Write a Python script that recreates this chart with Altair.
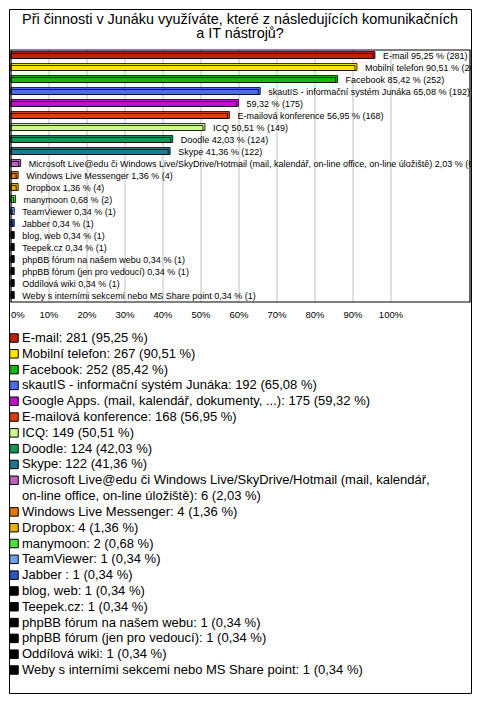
import altair as alt
import pandas as pd

title_lines = ["Při činnosti v Junáku využíváte, které z následujících komunikačních", "a IT nástrojů?"]

categories = [
    "E-mail",
    "Mobilní telefon",
    "Facebook",
    "skautIS - informační systém Junáka",
    "Google Apps. (mail, kalendář, dokumenty, ...)",
    "E-mailová konference",
    "ICQ",
    "Doodle",
    "Skype",
    "Microsoft Live@edu či Windows Live/SkyDrive/Hotmail (mail, kalendář,\non-line office, on-line úložiště)",
    "Windows Live Messenger",
    "Dropbox",
    "manymoon",
    "TeamViewer",
    "Jabber ",
    "blog, web",
    "Teepek.cz",
    "phpBB fórum na našem webu",
    "phpBB fórum (jen pro vedoucí)",
    "Oddílová wiki",
    "Weby s interními sekcemi nebo MS Share point",
]
bar_names = [
    "E-mail",
    "Mobilní telefon",
    "Facebook",
    "skautIS - informační systém Junáka",
    "",
    "E-mailová konference",
    "ICQ",
    "Doodle",
    "Skype",
    "Microsoft Live@edu či Windows Live/SkyDrive/Hotmail (mail, kalendář, on-line office, on-line úložiště)",
    "Windows Live Messenger",
    "Dropbox",
    "manymoon",
    "TeamViewer",
    "Jabber ",
    "blog, web",
    "Teepek.cz",
    "phpBB fórum na našem webu",
    "phpBB fórum (jen pro vedoucí)",
    "Oddílová wiki",
    "Weby s interními sekcemi nebo MS Share point",
]
counts = [281, 267, 252, 192, 175, 168, 149, 124, 122, 6, 4, 4, 2, 1, 1, 1, 1, 1, 1, 1, 1]
percents = [95.25, 90.51, 85.42, 65.08, 59.32, 56.95, 50.51, 42.03, 41.36, 2.03, 1.36, 1.36, 0.68,
            0.34, 0.34, 0.34, 0.34, 0.34, 0.34, 0.34, 0.34]
colors = ["#c0200e", "#ffe600", "#10b810", "#4a6cf0", "#c010c8", "#e03c0c", "#ccf890", "#10985a",
          "#207a8c", "#c060c0", "#e87810", "#e8b010", "#50e040", "#70a0f0", "#3058c0",
          "#000000", "#000000", "#000000", "#000000", "#000000", "#000000"]
tick_values = [0, 10, 20, 30, 40, 50, 60, 70, 80, 90, 100]

FONT = "Liberation Sans"

pct_txt = [f"{p:.2f}".replace(".", ",") for p in percents]
bar_labels = [(n + " " if n else "") + f"{t} % ({c})" for n, t, c in zip(bar_names, pct_txt, counts)]
legend_labels = [f"{n}: {c} ({t} %)" for n, c, t in zip(categories, counts, pct_txt)]
line_start, cur = [], 0
for lab in legend_labels:
    line_start.append(cur)
    cur += lab.count("\n") + 1

df = pd.DataFrame({
    "cat": categories,
    "idx": list(range(len(categories))),
    "pct": percents,
    "label": bar_labels,
    "legend": legend_labels,
    "line": line_start,
})
ticks_df = pd.DataFrame({"t": tick_values, "lab": [f"{v}%" for v in tick_values]})

color = alt.Color("cat:N", scale=alt.Scale(domain=categories, range=colors), legend=None)
xs = alt.Scale(domain=[0, 120], range=[2, 458], nice=False, zero=False)
ys = alt.Scale(domain=[-0.5, 20.5], range=[41, 293], nice=False, zero=False)
ls = alt.Scale(domain=[0, 21], range=[329, 661], nice=False, zero=False)

base = alt.Chart(df).transform_calculate(y0="datum.idx - 0.21", y1="datum.idx + 0.21")

grid = alt.Chart(ticks_df).transform_filter("datum.t > 0").mark_rule(color="#c0c0c0", strokeWidth=1).encode(
    x=alt.X("t:Q", scale=xs, axis=None), y=alt.value(41), y2=alt.value(293))

tick_first = alt.Chart(ticks_df).transform_filter("datum.t == 0").mark_text(
    align="left", baseline="middle", font=FONT, fontSize=9.5, color="black").encode(
    x=alt.X("t:Q", scale=xs, axis=None), y=alt.value(306), text="lab:N")
tick_rest = alt.Chart(ticks_df).transform_filter("datum.t > 0").mark_text(
    align="center", baseline="middle", font=FONT, fontSize=9.5, color="black").encode(
    x=alt.X("t:Q", scale=xs, axis=None), y=alt.value(306), text="lab:N")

back = base.mark_rect(stroke="black", strokeWidth=0.8, xOffset=2, yOffset=-2).encode(
    x=alt.X("pct:Q", scale=xs, axis=None), x2=alt.datum(0),
    y=alt.Y("y0:Q", scale=ys, axis=None), y2="y1:Q", color=color)
front = base.mark_rect(stroke="black", strokeWidth=0.8).encode(
    x=alt.X("pct:Q", scale=xs, axis=None), x2=alt.datum(0),
    y=alt.Y("y0:Q", scale=ys, axis=None), y2="y1:Q", color=color)
labels = base.mark_text(align="left", baseline="middle", dx=10, font=FONT, fontSize=9, color="black").encode(
    x=alt.X("pct:Q", scale=xs, axis=None), y=alt.Y("idx:Q", scale=ys, axis=None), text="label:N")

frame = alt.Chart(pd.DataFrame({"a": [0]})).mark_rect(fillOpacity=0, stroke="black", strokeWidth=1.2).encode(
    x=alt.value(2), x2=alt.value(461), y=alt.value(41), y2=alt.value(293))

squares = base.mark_square(size=72, stroke="black", strokeWidth=1, opacity=1).encode(
    x=alt.value(5), y=alt.Y("line:Q", scale=ls, axis=None), color=color)
leg_text = base.mark_text(
    align="left", baseline="middle", font=FONT, fontSize=13, lineBreak="\n", lineHeight=15.8, color="black").encode(
    x=alt.value(13), y=alt.Y("line:Q", scale=ls, axis=None), text="legend:N")

title = alt.Chart(pd.DataFrame({"a": [0]})).mark_text(
    align="center", baseline="middle", font=FONT, fontSize=14.4, lineHeight=14.5, color="black").encode(
    x=alt.value(231), y=alt.value(10.5), text=alt.value(title_lines))

chart = alt.layer(title, grid, tick_first, tick_rest, back, front, labels, frame, squares, leg_text).properties(
    width=462, height=684, padding=1, autosize=alt.AutoSizeParams(type="none"), background="white"
).resolve_scale(y="independent").configure_view(stroke="black", strokeWidth=1)

chart.save("out.html", embed_options={"renderer": "svg", "actions": False})
